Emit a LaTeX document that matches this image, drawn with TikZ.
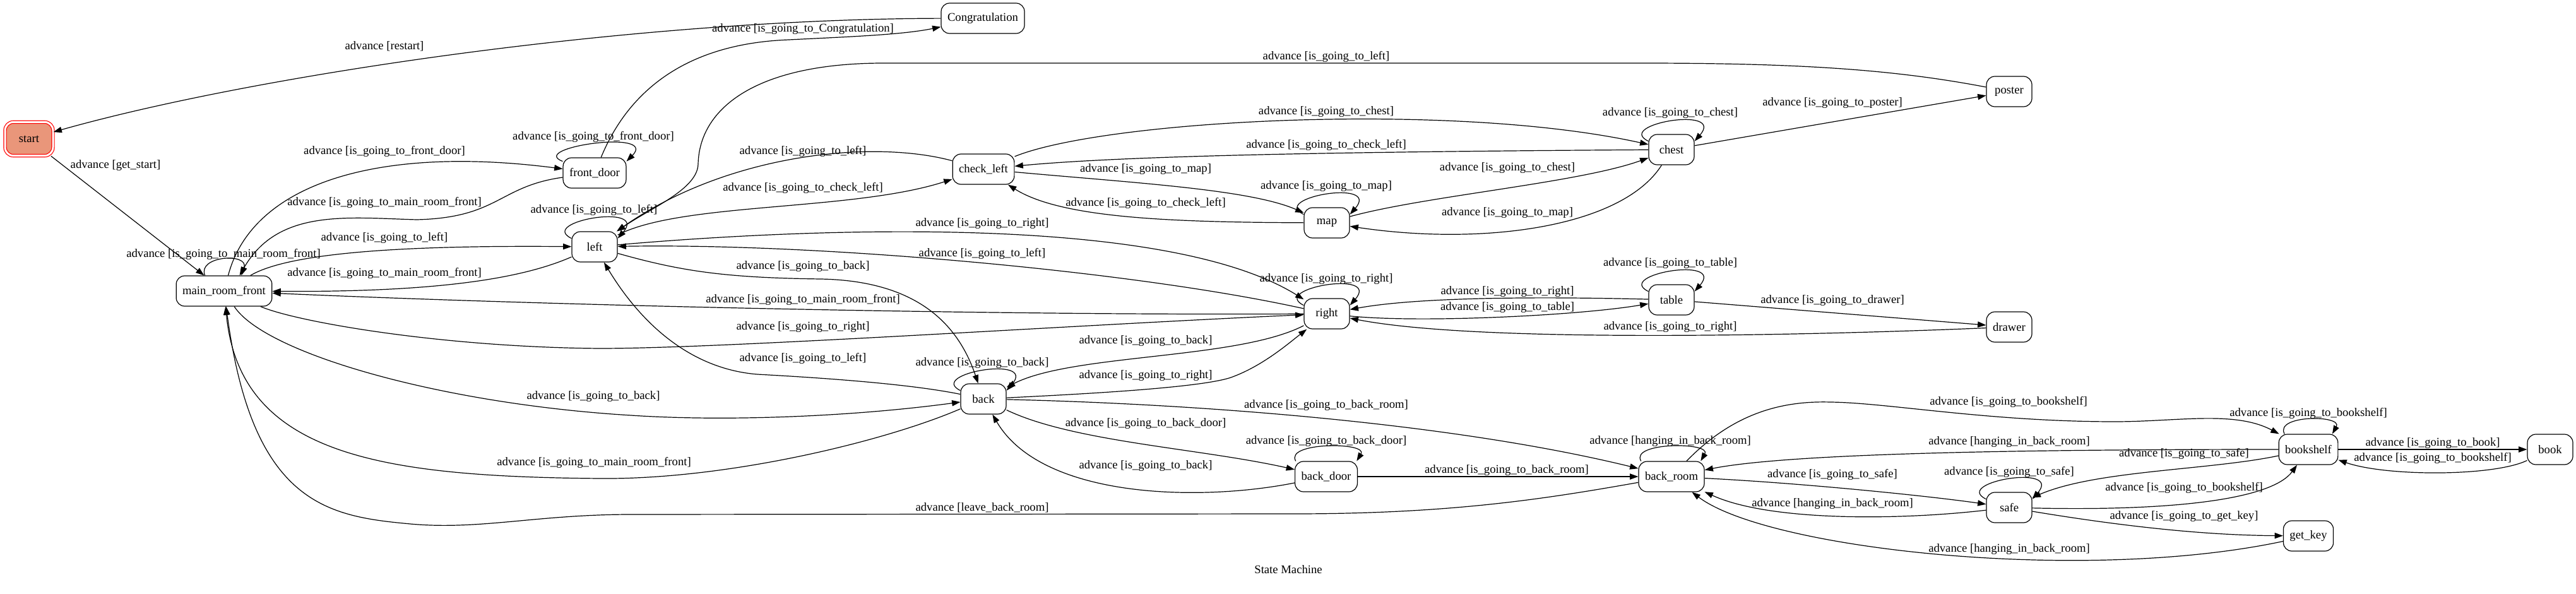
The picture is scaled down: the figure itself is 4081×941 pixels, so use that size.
\documentclass[tikz,border=0pt]{standalone}
\usepackage{fontspec}
\setmainfont{Liberation Serif}
\usetikzlibrary{arrows.meta}
\definecolor{startfill}{HTML}{E9967A}
\begin{document}
\begin{tikzpicture}[x=0.75pt,y=-0.75pt,every node/.style={font=\fontsize{14}{16}\selectfont},
  state/.style={draw,line width=0.9pt,rounded corners=10pt,minimum width=54pt,minimum height=36pt,inner xsep=7.5pt},
  transit/.style={-{Triangle[length=10pt,width=7pt]},line width=0.9pt},
  lbl/.style={inner sep=0pt}]
  \useasboundingbox (0,0) rectangle (4081,941);
  \node[state,fill=startfill,draw=red,double=white,double distance=2.25pt,minimum width=57pt,minimum height=40pt] (start) at (46,220) {start};
  \node[state] (congrat) at (1557,29) {Congratulation};
  \node[state] (mainfront) at (355,461) {main\_room\_front};
  \node[state] (frontdoor) at (942,274) {front\_door};
  \node[state] (lft) at (942,391) {left};
  \node[state] (checkleft) at (1558,268) {check\_left};
  \node[state] (back) at (1558,632) {back};
  \node[state] (poster) at (3183,145) {poster};
  \node[state] (chest) at (2648,237) {chest};
  \node[state] (map) at (2102,353) {map};
  \node[state] (table) at (2648,475) {table};
  \node[state] (rgt) at (2102,497) {right};
  \node[state] (drawer) at (3183,518) {drawer};
  \node[state] (backdoor) at (2101,755) {back\_door};
  \node[state] (backroom) at (2648,755) {back\_room};
  \node[state] (safe) at (3183,804) {safe};
  \node[state] (bookshelf) at (3657,712) {bookshelf};
  \node[state] (book) at (4040,712) {book};
  \node[state] (getkey) at (3657,849) {get\_key};
  \node (caption) at (2041,902) {State Machine};

  \draw[transit] (congrat) .. controls (1000,30) and (400,120) .. (start) node[lbl] at (609,73) {advance [restart]};
  \draw[transit] (start) -- (mainfront) node[lbl] at (183,262) {advance [get\_start]};
  \draw[transit] (mainfront.141) .. controls (312,405) and (395,400) .. (mainfront.42) node[lbl] at (354,403) {advance [is\_going\_to\_main\_room\_front]};
  \draw[transit] (mainfront) .. controls (400,290) and (600,230) .. (frontdoor) node[lbl] at (609,240) {advance [is\_going\_to\_front\_door]};
  \draw[transit] (frontdoor) .. controls (790,295) and (790,345) .. (660,348) .. controls (550,345) and (440,330) .. (mainfront.45) node[lbl] at (609,321) {advance [is\_going\_to\_main\_room\_front]};
  \draw[transit] (frontdoor.160) .. controls (835,234) and (1044,204) .. (frontdoor.20) node[lbl] at (940,217) {advance [is\_going\_to\_front\_door]};
  \draw[transit] (frontdoor) .. controls (985,170) and (1060,70) .. (1250,63) .. controls (1350,58) and (1430,55) .. (congrat) node[lbl] at (1272,46) {advance [is\_going\_to\_Congratulation]};
  \draw[transit] (mainfront) .. controls (450,405) and (600,388) .. (lft) node[lbl] at (609,377) {advance [is\_going\_to\_left]};
  \draw[transit] (lft) .. controls (830,440) and (700,463) .. (mainfront) node[lbl] at (609,433) {advance [is\_going\_to\_main\_room\_front]};
  \draw[transit] (lft.160) .. controls (851,351) and (1028,321) .. (lft.20) node[lbl] at (941,333) {advance [is\_going\_to\_left]};
  \draw[transit] (checkleft) .. controls (1380,220) and (1150,245) .. (lft) node[lbl] at (1272,240) {advance [is\_going\_to\_left]};
  \draw[transit] (lft) .. controls (1080,320) and (1350,335) .. (checkleft) node[lbl] at (1272,298) {advance [is\_going\_to\_check\_left]};
  \draw[transit] (poster) .. controls (3000,110) and (2850,100) .. (2600,100) -- (1400,100) .. controls (1200,100) and (1108,170) .. (1106,260) .. controls (1105,300) and (1030,330) .. (lft) node[lbl] at (2101,90) {advance [is\_going\_to\_left]};
  \draw[transit] (lft) .. controls (1300,360) and (1850,340) .. (rgt) node[lbl] at (1556,354) {advance [is\_going\_to\_right]};
  \draw[transit] (rgt) .. controls (1800,430) and (1300,385) .. (lft) node[lbl] at (1556,402) {advance [is\_going\_to\_left]};
  \draw[transit] (lft) .. controls (1080,430) and (1150,440) .. (1300,442) .. controls (1460,445) and (1520,520) .. (back) node[lbl] at (1272,422) {advance [is\_going\_to\_back]};
  \draw[transit] (back) .. controls (1450,610) and (1330,600) .. (1200,593) .. controls (1100,585) and (1020,520) .. (lft) node[lbl] at (1272,568) {advance [is\_going\_to\_left]};
  \draw[transit] (rgt) .. controls (1600,500) and (900,485) .. (mainfront) node[lbl] at (1272,475) {advance [is\_going\_to\_main\_room\_front]};
  \draw[transit] (mainfront) .. controls (470,510) and (700,550) .. (950,552) .. controls (1150,552) and (1700,515) .. (rgt) node[lbl] at (1272,518) {advance [is\_going\_to\_right]};
  \draw[transit] (mainfront) .. controls (420,560) and (700,640) .. (1000,658) .. controls (1150,668) and (1350,660) .. (back) node[lbl] at (940,628) {advance [is\_going\_to\_back]};
  \draw[transit] (back) .. controls (1400,700) and (1150,760) .. (950,758) .. controls (600,755) and (380,720) .. (mainfront) node[lbl] at (941,733) {advance [is\_going\_to\_main\_room\_front]};
  \draw[transit] (backroom) .. controls (2450,790) and (2300,814) .. (2050,814) -- (1000,815) .. controls (850,815) and (760,840) .. (650,830) .. controls (520,818) and (400,800) .. (mainfront) node[lbl] at (1556,804) {advance [leave\_back\_room]};
  \draw[transit] (back.160) .. controls (1468,592) and (1644,562) .. (back.20) node[lbl] at (1556,575) {advance [is\_going\_to\_back]};
  \draw[transit] (rgt) .. controls (1960,570) and (1700,560) .. (back) node[lbl] at (1815,540) {advance [is\_going\_to\_back]};
  \draw[transit] (back) .. controls (1700,625) and (1900,615) .. (1950,598) .. controls (2000,580) and (2040,545) .. (rgt) node[lbl] at (1815,595) {advance [is\_going\_to\_right]};
  \draw[transit] (back) .. controls (1900,640) and (2300,670) .. (backroom) node[lbl] at (2101,642) {advance [is\_going\_to\_back\_room]};
  \draw[transit] (back) .. controls (1700,700) and (1900,710) .. (backdoor) node[lbl] at (1815,671) {advance [is\_going\_to\_back\_door]};
  \draw[transit] (backdoor) .. controls (1900,795) and (1650,790) .. (back) node[lbl] at (1815,738) {advance [is\_going\_to\_back]};
  \draw[transit] (backdoor.153) .. controls (2035,700) and (2168,700) .. (backdoor.27) node[lbl] at (2101,699) {advance [is\_going\_to\_back\_door]};
  \draw[transit] (backdoor) -- (backroom) node[lbl] at (2387,745) {advance [is\_going\_to\_back\_room]};
  \draw[transit] (backroom.153) .. controls (2582,700) and (2712,700) .. (backroom.28) node[lbl] at (2646,699) {advance [hanging\_in\_back\_room]};
  \draw[transit] (backroom) .. controls (2750,650) and (2830,635) .. (2900,637) .. controls (2990,638) and (3150,668) .. (3350,668) .. controls (3450,668) and (3540,650) .. (bookshelf) node[lbl] at (3182,637) {advance [is\_going\_to\_bookshelf]};
  \draw[transit] (bookshelf) .. controls (3300,712) and (2850,715) .. (backroom) node[lbl] at (3183,700) {advance [hanging\_in\_back\_room]};
  \draw[transit] (bookshelf.147) .. controls (3603,657) and (3712,657) .. (bookshelf.33) node[lbl] at (3657,655) {advance [is\_going\_to\_bookshelf]};
  \draw[transit] (backroom) .. controls (2850,765) and (3050,785) .. (safe) node[lbl] at (2903,752) {advance [is\_going\_to\_safe]};
  \draw[transit] (safe) .. controls (3000,825) and (2800,825) .. (backroom) node[lbl] at (2903,798) {advance [hanging\_in\_back\_room]};
  \draw[transit] (getkey) .. controls (3300,925) and (2800,870) .. (backroom) node[lbl] at (3183,870) {advance [hanging\_in\_back\_room]};
  \draw[transit] (safe.160) .. controls (3092,764) and (3269,734) .. (safe.20) node[lbl] at (3183,748) {advance [is\_going\_to\_safe]};
  \draw[transit] (bookshelf) .. controls (3500,745) and (3320,745) .. (safe) node[lbl] at (3460,719) {advance [is\_going\_to\_safe]};
  \draw[transit] (safe) .. controls (3450,810) and (3600,790) .. (bookshelf) node[lbl] at (3460,773) {advance [is\_going\_to\_bookshelf]};
  \draw[transit] (safe) .. controls (3400,840) and (3520,848) .. (getkey) node[lbl] at (3460,818) {advance [is\_going\_to\_get\_key]};
  \draw[transit] (bookshelf) -- (book) node[lbl] at (3854,702) {advance [is\_going\_to\_book]};
  \draw[transit] (book) .. controls (3950,755) and (3780,755) .. (bookshelf) node[lbl] at (3854,726) {advance [is\_going\_to\_bookshelf]};
  \draw[transit] (table.160) .. controls (2557,435) and (2734,405) .. (table.20) node[lbl] at (2646,417) {advance [is\_going\_to\_table]};
  \draw[transit] (table) .. controls (2450,470) and (2250,470) .. (rgt) node[lbl] at (2388,462) {advance [is\_going\_to\_right]};
  \draw[transit] (rgt) .. controls (2250,512) and (2500,500) .. (table) node[lbl] at (2388,487) {advance [is\_going\_to\_table]};
  \draw[transit] (rgt.160) .. controls (2011,457) and (2188,427) .. (rgt.20) node[lbl] at (2101,442) {advance [is\_going\_to\_right]};
  \draw[transit] (table) -- (drawer) node[lbl] at (2903,476) {advance [is\_going\_to\_drawer]};
  \draw[transit] (drawer) .. controls (2900,530) and (2350,545) .. (rgt) node[lbl] at (2646,518) {advance [is\_going\_to\_right]};
  \draw[transit] (chest) -- (poster) node[lbl] at (2903,163) {advance [is\_going\_to\_poster]};
  \draw[transit] (chest.160) .. controls (2557,197) and (2734,167) .. (chest.20) node[lbl] at (2646,179) {advance [is\_going\_to\_chest]};
  \draw[transit] (checkleft) .. controls (1750,190) and (2300,160) .. (chest) node[lbl] at (2101,177) {advance [is\_going\_to\_chest]};
  \draw[transit] (chest) .. controls (2200,240) and (1800,245) .. (checkleft) node[lbl] at (2101,230) {advance [is\_going\_to\_check\_left]};
  \draw[transit] (checkleft) .. controls (1800,290) and (1980,300) .. (map) node[lbl] at (1815,268) {advance [is\_going\_to\_map]};
  \draw[transit] (map) .. controls (1850,352) and (1680,345) .. (checkleft) node[lbl] at (1815,322) {advance [is\_going\_to\_check\_left]};
  \draw[transit] (map.160) .. controls (2011,313) and (2188,283) .. (map.20) node[lbl] at (2101,295) {advance [is\_going\_to\_map]};
  \draw[transit] (map) .. controls (2260,310) and (2500,290) .. (chest) node[lbl] at (2388,266) {advance [is\_going\_to\_chest]};
  \draw[transit] (chest) .. controls (2570,360) and (2350,390) .. (map) node[lbl] at (2388,337) {advance [is\_going\_to\_map]};
\end{tikzpicture}
\end{document}
